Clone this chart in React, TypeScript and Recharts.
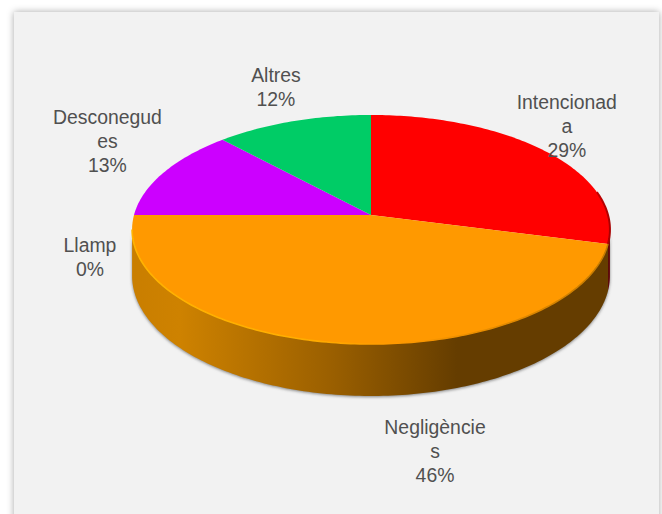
import { Pie, PieChart } from 'recharts'

const categories = ['Intencionada', 'Negligències', 'Llamp', 'Desconegudes', 'Altres']
const values = [29, 46, 0, 13, 12]
const sliceColors = ['#FF0000', '#FF9900', '#A5A5A5', '#CC00FF', '#00CC66']
const wallColors = ['url(#wallRed)', 'url(#wallOrange)', '#777777', '#800099', '#008040']
// how the labels wrap in the original text boxes
const labelLines = [['Intencionad', 'a'], ['Negligèncie', 's'], ['Llamp'], ['Desconegud', 'es'], ['Altres']]
const labelNudges = [
  [22, -24],
  [98, 109],
  [-44, 43],
  [-56.5, -30],
  [-17, -33],
]

const data = categories.map((name, i) => ({ name, value: values[i] }))

const WIDTH = 662
const HEIGHT = 514
const TILT = 0.4755 // vertical squash of the disc
const PERSPECTIVE = 0.1266
const DEPTH = 45.4
const FRONT_RIGHT = (Math.acos(-PERSPECTIVE) * 180) / Math.PI
const FRONT_LEFT = 360 - FRONT_RIGHT

// theta is clockwise from 12 o'clock, in degrees
function project(cx: number, cy: number, r: number, theta: number, drop = 0) {
  const t = (theta * Math.PI) / 180
  const u = r > 0 ? Math.sin(t) : 0
  const v = r > 0 ? Math.cos(t) : 0
  const d = 1 + PERSPECTIVE * v
  return {
    x: cx + (r * u) / d,
    y: cy - (r * TILT * v) / d + drop / d,
  }
}

function arcPoints(cx: number, cy: number, r: number, from: number, to: number, drop = 0) {
  const pts = []
  for (let a = from; a < to; a += 1) pts.push(project(cx, cy, r, a, drop))
  pts.push(project(cx, cy, r, to, drop))
  return pts
}

const toPath = (pts: { x: number; y: number }[]) =>
  pts.map((p, i) => `${i ? 'L' : 'M'}${p.x.toFixed(2)} ${p.y.toFixed(2)}`).join(' ')

function Slice(props: any) {
  const { cx, cy, outerRadius, startAngle, endAngle, fill, index } = props
  const from = 90 - startAngle
  const to = 90 - endAngle
  if (to - from < 0.01) return <g />
  const top = arcPoints(cx, cy, outerRadius, from, to)
  const wallFrom = Math.max(from, FRONT_RIGHT)
  const wallTo = Math.min(to, FRONT_LEFT)
  const hasWall = wallTo > wallFrom
  const front = hasWall ? arcPoints(cx, cy, outerRadius, wallFrom, wallTo) : []
  const back = hasWall ? arcPoints(cx, cy, outerRadius, wallFrom, wallTo, DEPTH).reverse() : []
  return (
    <g>
      {hasWall && (
        <path
          d={`${toPath([...front, ...back])} Z`}
          fill={wallColors[index]}
          style={{ filter: 'drop-shadow(0px 1px 1.5px rgba(40,40,40,0.55))' }}
        />
      )}
      <path d={`M${cx} ${cy} ${toPath(top).replace('M', 'L')} Z`} fill={fill} />
      {index === 1 && <path d={toPath(front)} fill="none" stroke="url(#rimOrange)" strokeWidth={1.6} />}
      {index === 0 && <path d={toPath(top.slice(-28))} fill="none" stroke="url(#rimRed)" strokeWidth={2} />}
    </g>
  )
}

function SliceLabel(props: any) {
  const { cx, cy, outerRadius, midAngle, percent, index } = props
  const anchor = project(cx, cy, outerRadius, 90 - midAngle)
  const [dx, dy] = labelNudges[index]
  const lines = [...labelLines[index], `${Math.round(percent * 100)}%`]
  const x = anchor.x + dx
  const y = anchor.y + dy - ((lines.length - 1) * 24) / 2 + 6
  return (
    <text
      x={x}
      y={y}
      textAnchor="middle"
      fill="#505050"
      fontFamily="'Liberation Sans', sans-serif"
      fontSize={19.4}
    >
      {lines.map((line, i) => (
        <tspan key={i} x={x} dy={i ? 24 : 0}>
          {line}
        </tspan>
      ))}
    </text>
  )
}

export default function App() {
  return (
    <div style={{ position: 'absolute', left: 0, top: 0, width: WIDTH, height: HEIGHT, overflow: 'hidden', background: '#fff' }}>
      <div
        style={{
          position: 'absolute',
          left: 14,
          top: 12,
          width: 645,
          height: 540,
          background: '#F2F2F2',
          boxShadow: '0 0 7px rgba(0,0,0,0.35)',
        }}
      />
      <div style={{ position: 'absolute', left: 0, top: 0 }}>
        <PieChart width={WIDTH} height={HEIGHT} margin={{ top: 0, right: 0, bottom: 0, left: 0 }}>
          <defs>
            <linearGradient id="wallOrange" gradientUnits="userSpaceOnUse" x1={132} x2={610} y1={0} y2={0}>
              <stop offset="0" stopColor="#C97E00" />
              <stop offset="0.1" stopColor="#CE8200" />
              <stop offset="0.42" stopColor="#9A5F00" />
              <stop offset="0.68" stopColor="#653D00" />
              <stop offset="1" stopColor="#653D00" />
            </linearGradient>
            <linearGradient id="wallRed" gradientUnits="userSpaceOnUse" x1={600} x2={610} y1={0} y2={0}>
              <stop offset="0" stopColor="#7A0000" />
              <stop offset="1" stopColor="#660000" />
            </linearGradient>
            <linearGradient id="rimOrange" gradientUnits="userSpaceOnUse" x1={132} x2={610} y1={0} y2={0}>
              <stop offset="0" stopColor="#FFB300" />
              <stop offset="0.35" stopColor="#FFAE00" />
              <stop offset="0.55" stopColor="#FF9900" />
              <stop offset="1" stopColor="#C47A00" />
            </linearGradient>
            <linearGradient id="rimRed" gradientUnits="userSpaceOnUse" x1={570} x2={610} y1={0} y2={0}>
              <stop offset="0" stopColor="#FF0000" />
              <stop offset="1" stopColor="#A80000" />
            </linearGradient>
          </defs>
          <Pie
            data={data}
            dataKey="value"
            nameKey="name"
            cx={371}
            cy={215}
            innerRadius={0}
            outerRadius={237}
            startAngle={90}
            endAngle={-270}
            paddingAngle={0}
            stroke="none"
            shape={(p: any) => <Slice {...p} fill={sliceColors[p.index]} />}
            label={SliceLabel}
            labelLine={false}
            isAnimationActive={false}
          />
        </PieChart>
      </div>
    </div>
  )
}
